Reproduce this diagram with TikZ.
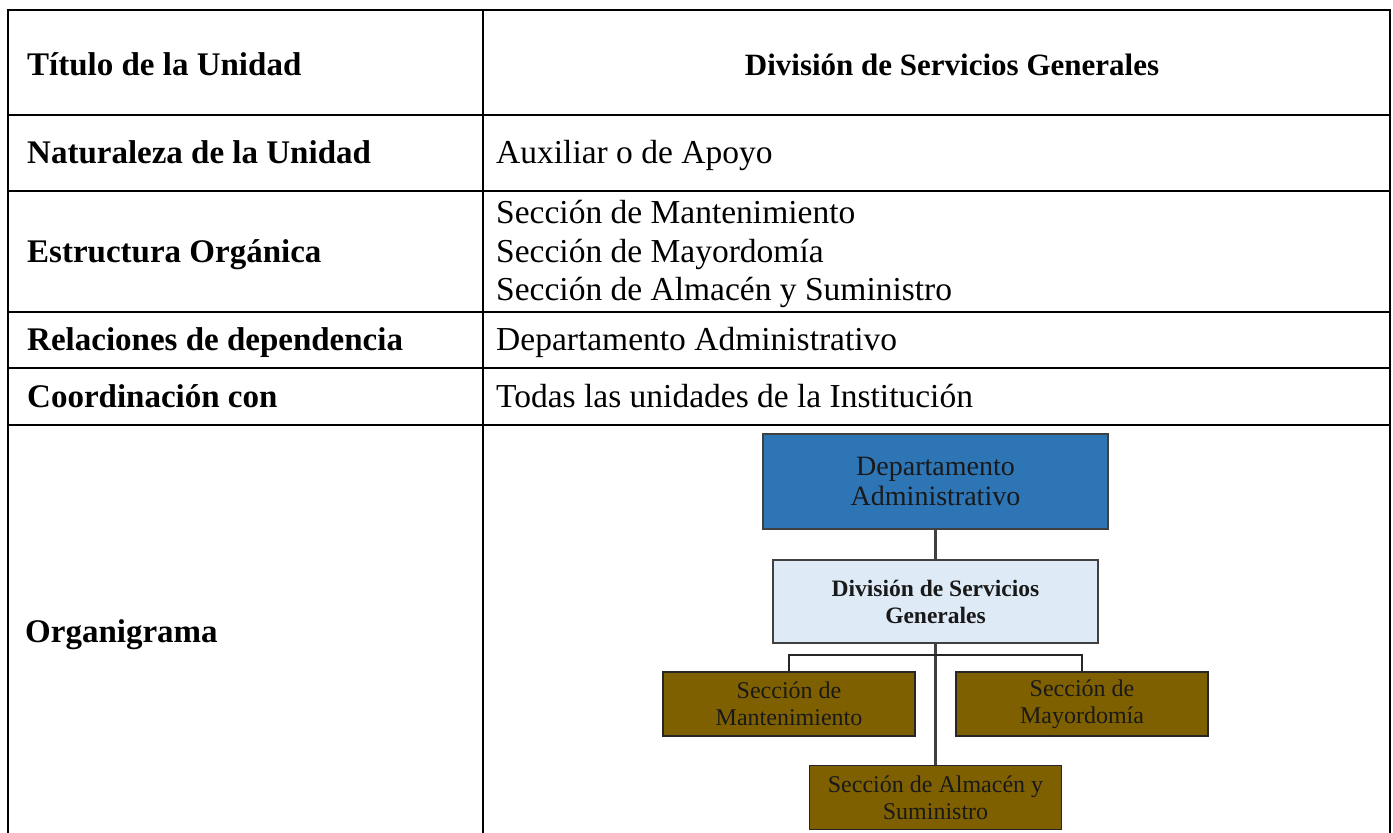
\documentclass[tikz,border=0pt]{standalone}
\usepackage{fontspec}
\setmainfont{Liberation Serif}
\definecolor{deptblue}{HTML}{2E75B6}
\definecolor{divblue}{HTML}{DEEAF6}
\definecolor{secbrown}{HTML}{7F6000}
\definecolor{boxline}{HTML}{404040}
\begin{document}
\begin{tikzpicture}[x=1pt,y=-1pt,
  tline/.style={line width=2.6pt,black},
  lbl/.style={anchor=base west,inner sep=0pt,font=\fontsize{33}{38}\selectfont\bfseries},
  val/.style={anchor=base west,inner sep=0pt,font=\fontsize{33.5}{38}\selectfont},
  hdr/.style={anchor=base,inner sep=0pt,font=\fontsize{31}{36}\selectfont\bfseries},
  deptbox/.style={draw=boxline,line width=1.5pt,fill=deptblue,minimum width=345pt,minimum height=95pt,inner sep=0pt,align=center,text=black!90,font=\fontsize{28}{30}\selectfont},
  divbox/.style={draw=boxline,line width=1.5pt,fill=divblue,minimum width=325pt,minimum height=83pt,inner sep=0pt,align=center,text=black!90,font=\fontsize{23.5}{27}\selectfont\bfseries},
  secbox/.style={draw=black!85,line width=1.5pt,fill=secbrown,minimum width=252pt,minimum height=64pt,inner sep=0pt,align=center,text=black!90,font=\fontsize{24}{27}\selectfont},
  conn/.style={line width=2pt,black!85},
  trunk/.style={line width=2.6pt,black!75}
]
\useasboundingbox (0,0) rectangle (1393,833);
% table frame
\draw[tline] (8,833) -- (8,10) -- (1390,10) -- (1390,833);
\draw[tline] (483,10) -- (483,833);
\foreach \yy in {115,191,312,368,425} \draw[tline] (8,\yy) -- (1390,\yy);
% left column
\node[lbl] (l1) at (27,75) {Título de la Unidad};
\node[lbl] (l2) at (27,163) {Naturaleza de la Unidad};
\node[lbl] (l3) at (27,262) {Estructura Orgánica};
\node[lbl] (l4) at (27,350) {Relaciones de dependencia};
\node[lbl] (l5) at (27,407) {Coordinación con};
\node[lbl] (l6) at (25,642) {Organigrama};
% right column
\node[hdr] (r1) at (952,75) {División de Servicios Generales};
\node[val] (r2) at (496,163) {Auxiliar o de Apoyo};
\node[val] (r3a) at (496,223) {Sección de Mantenimiento};
\node[val] (r3b) at (496,262) {Sección de Mayordomía};
\node[val] (r3c) at (496,300) {Sección de Almacén y Suministro};
\node[val] (r4) at (496,350) {Departamento Administrativo};
\node[val] (r5) at (496,407) {Todas las unidades de la Institución};
% org chart
\node[deptbox] (dept) at (935.5,481.5) {Departamento\\Administrativo};
\node[divbox] (div) at (935.5,601.5) {División de Servicios\\Generales};
\node[secbox] (mant) at (789,704) {Sección de\\Mantenimiento};
\node[secbox] (may) at (1082,704) {Sección de\\Mayordomía};
\node[secbox] (alm) at (935.5,797.5) {Sección de Almacén y\\Suministro};
\coordinate (bar) at (935.5,655);
\draw[trunk] (dept.south) -- (div.north);
\draw[trunk] (div.south) -- (alm.north);
\draw[conn] (mant.north) -- (mant.north |- bar) -- (may.north |- bar) -- (may.north);
\end{tikzpicture}
\end{document}
